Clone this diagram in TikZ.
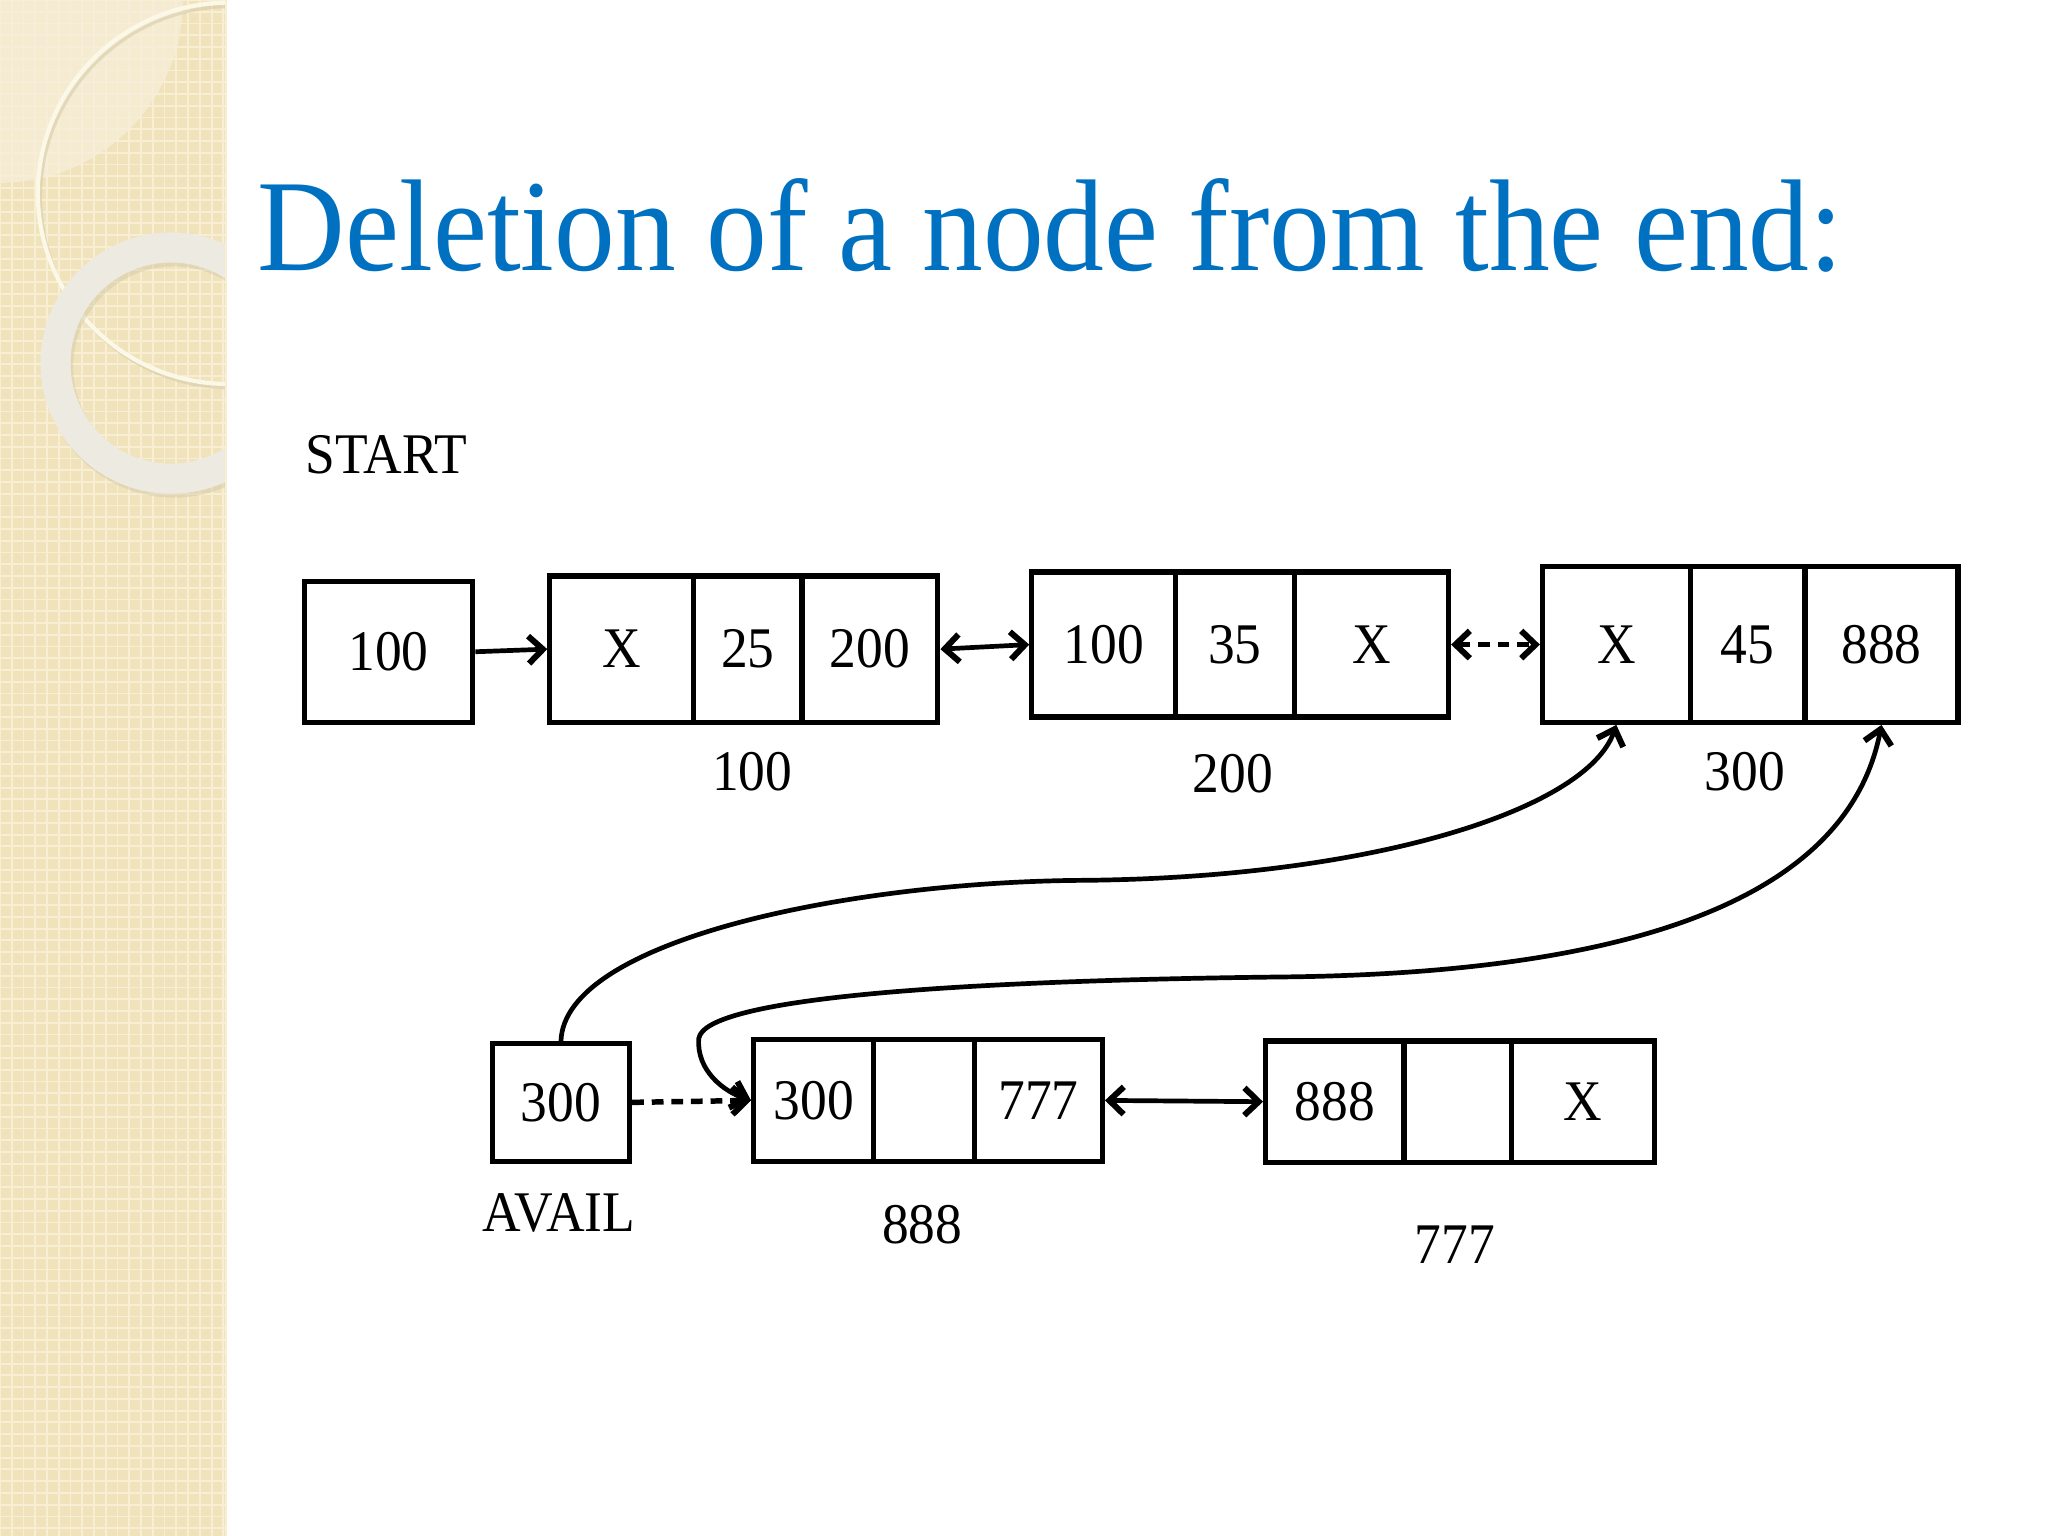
\documentclass[tikz,border=0pt]{standalone}
\usepackage{fontspec}
\setmainfont{Liberation Serif}[FakeStretch=0.93]
\usetikzlibrary{arrows.meta}
\definecolor{titleblue}{RGB}{0,112,192}
\definecolor{stripcol}{RGB}{240,226,186}
\definecolor{stripgrid}{RGB}{247,238,212}
\definecolor{stripLight}{RGB}{246,239,218}
\definecolor{ringcol}{RGB}{237,234,225}
\definecolor{ringshadow}{RGB}{214,204,172}
\definecolor{thincol}{RGB}{252,248,232}
\tikzset{tipb/.tip={Straight Barb[length=5.5pt,width=10.5pt,line width=2.3pt]}}
\begin{document}
\begin{tikzpicture}[x=0.5pt,y=-0.5pt,
  cell/.style={draw, line width=2pt, inner sep=0pt, anchor=north west, font=\fontsize{22}{26}\selectfont},
  lbl/.style={font=\fontsize{22}{26}\selectfont, inner sep=0pt},
  conn/.style={line width=1.8pt, -tipb},
  biconn/.style={line width=1.8pt, tipb-tipb},
  dashconn/.style={line width=2.1pt, dash pattern=on 4.5pt off 3pt}
]
\useasboundingbox (0,0) rectangle (1568,1176);
\fill[white] (0,0) rectangle (1568,1176);
% decorative strip
\begin{scope}
  \clip (0,0) rectangle (173,1176);
  \fill[stripcol] (0,0) rectangle (173,1176);
  \draw[stripgrid, line width=0.7pt, step=4.5pt] (0,0) grid (173,1176);
  \fill[stripLight, opacity=0.75] (0,0) -- (140,0) arc[start angle=0, end angle=-90, radius=70pt] -- cycle;
  \draw[ringshadow, line width=1.2pt, opacity=0.6] (177,151) circle[radius=73pt];
  \draw[thincol, line width=1.6pt] (175,148) circle[radius=73pt];
  \fill[ringshadow, opacity=0.5, even odd rule] (133,281) circle[radius=50pt] (133,281) circle[radius=38.5pt];
  \fill[ringcol, even odd rule] (131,278) circle[radius=50pt] (131,278) circle[radius=38.5pt];
\end{scope}
\draw[stripgrid, line width=1pt] (173,0) -- (173,1176);
% title
\node[anchor=base west, inner sep=0pt, text=titleblue, font=\fontsize{50}{60}\selectfont] (title) at (197,207) {Deletion of a node from the end:};
% top list
\node[lbl] (startlbl) at (296,348) {START};
\node[cell, minimum width=64.5pt, minimum height=54pt] (start) at (231,443) {100};
\node[cell, minimum width=55pt, minimum height=56pt] (a1) at (419,439) {X};
\node[cell, minimum width=41.5pt, minimum height=56pt] (a2) at (529,439) {25};
\node[cell, minimum width=52pt, minimum height=56pt] (a3) at (612,439) {200};
\node[lbl] (la) at (576,591) {100};
\node[cell, minimum width=55pt, minimum height=55.5pt] (b1) at (788,436) {100};
\node[cell, minimum width=45.5pt, minimum height=55.5pt] (b2) at (898,436) {35};
\node[cell, minimum width=59pt, minimum height=55.5pt] (b3) at (989,436) {X};
\node[lbl] (lb) at (944,592) {200};
\node[cell, minimum width=56.5pt, minimum height=59.5pt] (c1) at (1179,432) {X};
\node[cell, minimum width=44pt, minimum height=59.5pt] (c2) at (1292,432) {45};
\node[cell, minimum width=58.5pt, minimum height=59.5pt] (c3) at (1380,432) {888};
\node[lbl] (lc) at (1336,591) {300};
% bottom list
\node[cell, minimum width=52.5pt, minimum height=45pt] (avail) at (375,797) {300};
\node[lbl] (lavail) at (428,929) {AVAIL};
\node[cell, minimum width=46pt, minimum height=46.5pt] (d1) at (575,794) {300};
\node[cell, minimum width=38.5pt, minimum height=46.5pt] (d2) at (667,794) {};
\node[cell, minimum width=49pt, minimum height=46.5pt] (d3) at (744,794) {777};
\node[lbl] (ld) at (706,938) {888};
\node[cell, minimum width=53pt, minimum height=46.5pt] (e1) at (967,795) {888};
\node[cell, minimum width=41pt, minimum height=46.5pt] (e2) at (1073,795) {};
\node[cell, minimum width=55pt, minimum height=46.5pt] (e3) at (1155,795) {X};
\node[lbl] (le) at (1114,953) {777};
% connectors
\draw[conn] (start.east) -- (a1.west);
\draw[biconn] (a3.east) -- (b1.west);
\draw[biconn, dashconn] (b3.east) -- (c1.west);
\draw[conn, dashconn] (avail.east) -- (d1.west);
\draw[biconn] (d3.east) -- (e1.west);
\draw[conn] (avail.north) .. controls (432,720) and (650,675) .. (830,674)
  .. controls (1050,672) and (1215,620) .. (c1.south);
\draw[biconn] (c3.south) .. controls (1418,670) and (1290,745) .. (980,748)
  .. controls (720,751) and (540,765) .. (535,795)
  .. controls (533,820) and (555,836) .. (d1.west);
\end{tikzpicture}
\end{document}
